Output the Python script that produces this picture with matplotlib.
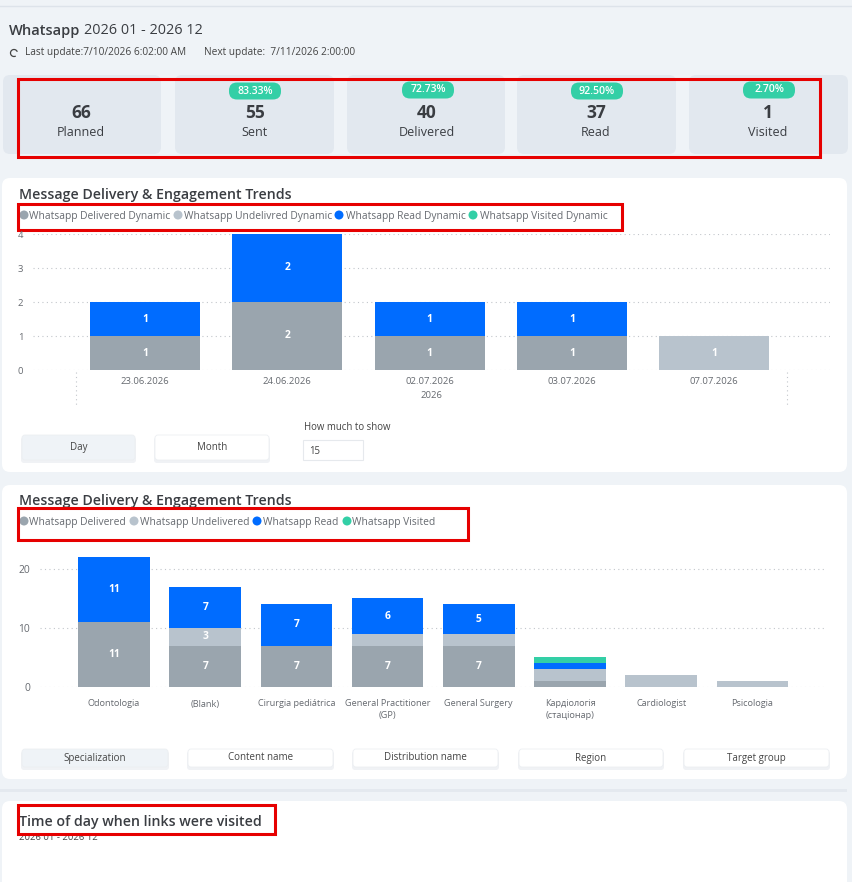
import matplotlib
matplotlib.use("Agg")
import matplotlib.pyplot as plt
from matplotlib.patches import FancyBboxPatch, Rectangle, Circle, Arc

plt.rcParams["font.family"] = ["Open Sans", "Noto Sans", "DejaVu Sans"]

W, H = 853, 882

# KPI strip
kpi_values = [66, 55, 40, 37, 1]
kpi_labels = ["Planned", "Sent", "Delivered", "Read", "Visited"]
kpi_rates = [None, "83.33%", "72.73%", "92.50%", "2.70%"]

# daily chart
day_labels = ["23.06.2026", "24.06.2026", "02.07.2026", "03.07.2026", "07.07.2026"]
day_delivered = [1, 2, 1, 1, 0]
day_undelivered = [0, 0, 0, 0, 1]
day_read = [1, 2, 1, 1, 0]
day_visited = [0, 0, 0, 0, 0]
day_ticks = [0, 1, 2, 3, 4]
day_legend = ["Whatsapp Delivered Dynamic", "Whatsapp Undelivred Dynamic",
              "Whatsapp Read Dynamic", "Whatsapp Visited Dynamic"]

# specialization chart
spec_labels = ["Odontologia", "(Blank)", "Cirurgia pediátrica",
               "General Practitioner\n(GP)", "General Surgery",
               "Кардіологія\n(стаціонар)", "Cardiologist", "Psicologia"]
spec_delivered = [11, 7, 7, 7, 7, 1, 0, 0]
spec_undelivered = [0, 3, 0, 2, 2, 2, 2, 1]
spec_read = [11, 7, 7, 6, 5, 1, 0, 0]
spec_visited = [0, 0, 0, 0, 0, 1, 0, 0]
spec_ticks = [0, 10, 20]
spec_legend = ["Whatsapp Delivered", "Whatsapp Undelivered",
               "Whatsapp Read", "Whatsapp Visited"]

COLORS = ["#9aa5ae", "#b8c3cd", "#006cff", "#33cfa6"]
BG = "#eff3f7"
CARD = "#e2e8ef"
TXT = "#3a3d42"
MUTED = "#666a70"
RED = "#e60000"

fig = plt.figure(figsize=(W / 100, H / 100), dpi=100, facecolor=BG)

# pixel-coordinate layer for panels, cards and labels
bg = fig.add_axes([0, 0, 1, 1], zorder=0)
bg.set_xlim(0, W)
bg.set_ylim(H, 0)
bg.axis("off")


def box(x0, y0, x1, y1, color, r=6, **kw):
    p = FancyBboxPatch((x0 + r, y0 + r), x1 - x0 - 2 * r, y1 - y0 - 2 * r,
                       boxstyle=f"round,pad={r},rounding_size={r}",
                       fc=color, ec=kw.pop("ec", "none"), lw=kw.pop("lw", 0), **kw)
    bg.add_patch(p)


def label(x, y, s, size=8, color=MUTED, ha="left", **kw):
    bg.text(x, y, s, fontsize=size, color=color, ha=ha, va="center", **kw)


def button(x0, x1, y0, y1, s, active=False):
    box(x0 - 1, y0 + 2, x1 + 1, y1 + 3, "#f0f2f5", r=3)
    box(x0, y0, x1, y1, "#eff3f7" if active else "white", r=3,
        ec="#eceff2", lw=0.6)
    label((x0 + x1) / 2, (y0 + y1) / 2, s, size=7, color="#444", ha="center")


def red_frame(x0, y0, x1, y1):
    bg.add_patch(Rectangle((x0, y0), x1 - x0, y1 - y0, fc="none", ec=RED, lw=2.2, zorder=6))


def legend_row(y, names, dots, texts):
    for name, c, dx, tx in zip(names, COLORS, dots, texts):
        bg.add_patch(Circle((dx, y), 4.5, fc=c, ec="none"))
        label(tx, y + 1, name, size=7.35)


# header
bg.plot([0, W], [6, 6], color="#dde3ea", lw=1)
label(9, 31, "Whatsapp", size=10.5, color=TXT, fontweight="semibold")
label(84, 30, "2026 01 - 2026 12", size=10.4, color=TXT)
bg.add_patch(Arc((14, 53), 7, 7, theta1=60, theta2=340, ec="#444", lw=0.9))
label(25, 52, "Last update:7/10/2026 6:02:00 AM", size=7.3, color="#444")
label(204, 52, "Next update:  7/11/2026 2:00:00", size=7.3, color="#444")

# KPI cards
card_x = [(3, 161), (175, 334), (347, 505), (517, 676), (689, 848)]
value_x = [81, 255, 427, 596, 768]
label_y = [133, 132, 132, 133, 132]
pill_x = [None, 255, 428, 597, 769]
pill_y = [None, 91, 90, 91, 90]
for i, (x0, x1) in enumerate(card_x):
    box(x0, 75, x1, 154, CARD, r=7)
    label(value_x[i], 113, str(kpi_values[i]), size=12.5, color=TXT, ha="center", fontweight="bold")
    label(value_x[i], label_y[i], kpi_labels[i], size=9, color=TXT, ha="center")
    if kpi_rates[i]:
        box(pill_x[i] - 26, pill_y[i] - 8.5, pill_x[i] + 26, pill_y[i] + 8.5, COLORS[3], r=8)
        label(pill_x[i], pill_y[i], kpi_rates[i], size=7.6, color="white", ha="center", fontweight="semibold")
red_frame(18, 79, 820, 157)

# white panels
box(2, 178, 847, 472, "white", r=8)
box(2, 485, 847, 779, "white", r=8)
bg.add_patch(Rectangle((0, 789), 847, 3, fc="#e4e9ef", ec="none"))
box(2, 801, 847, 900, "white", r=8)

label(19, 195, "Message Delivery & Engagement Trends", size=10.2, color=TXT, fontweight="semibold")
legend_row(215, day_legend, [24, 178, 339, 473], [29, 184, 346, 480])
red_frame(18, 204, 622, 230)

label(19, 501, "Message Delivery & Engagement Trends", size=10.2, color=TXT, fontweight="semibold")
legend_row(521, spec_legend, [24, 134, 257, 347], [29, 140, 263, 352])
red_frame(18, 508, 468, 540)

label(19, 822, "Time of day when links were visited", size=10.2, color=TXT, fontweight="semibold")
label(19, 838, "2026 01 - 2026 12", size=6.8, color="#444")
red_frame(18, 805, 275, 834)


def stacked(px_left, px_right, px_top, px_bot, first_x, step, width, ymax, ticks,
            cats, series, min_label):
    ax = fig.add_axes([px_left / W, 1 - px_bot / H, (px_right - px_left) / W,
                       (px_bot - px_top) / H], zorder=2)
    ax.patch.set_alpha(0)
    ax.set_xlim((px_left - first_x) / step, (px_right - first_x) / step)
    ax.set_ylim(0, ymax)
    xs = list(range(len(cats)))
    base = [0] * len(cats)
    for vals, c in zip(series, COLORS):
        ax.bar(xs, vals, width / step, bottom=base, color=c, zorder=3)
        for x, v, b in zip(xs, vals, base):
            if v >= min_label:
                ax.text(x, b + v / 2, str(v), color="white", fontsize=7.4,
                        fontweight="bold", ha="center", va="center", zorder=4)
        base = [b + v for b, v in zip(base, vals)]
    ax.set_yticks(ticks)
    ax.grid(axis="y", color="#c2c6cb", lw=0.8, ls=(0, (1, 3)), zorder=1)
    ax.set_axisbelow(True)
    for s in ax.spines.values():
        s.set_visible(False)
    ax.tick_params(length=0, labelsize=6.8, labelcolor=MUTED)
    ax.set_xticks(xs)
    ax.set_xticklabels(cats, linespacing=1.35)
    return ax


ax1 = stacked(33, 830, 234, 370, 145, 142.3, 110, 4, day_ticks, day_labels,
              [day_delivered, day_undelivered, day_read, day_visited], 1)
ax1.tick_params(axis="x", pad=5)
ax1.tick_params(axis="y", pad=7)
label(431, 395, "2026", size=6.8, ha="center")
for x in (76, 787):
    bg.plot([x, x], [372, 405], color="#c2c6cb", lw=0.8, ls=(0, (1, 3)))

ax2 = stacked(40, 824, 557, 687, 114, 91.2, 71.5, 22, spec_ticks, spec_labels,
              [spec_delivered, spec_undelivered, spec_read, spec_visited], 3)
ax2.tick_params(axis="x", pad=9, labelsize=6.6)
ax2.tick_params(axis="y", pad=7, labelsize=7.4)

# period switch and row limit
button(22, 135, 435, 460, "Day", active=True)
button(155, 269, 435, 460, "Month")
label(304, 428, "How much to show", size=6.9, color="#444")
bg.add_patch(Rectangle((303, 440), 60, 20, fc="white", ec="#e6e9ed", lw=0.8))
label(309, 451, "15", size=6.9, color="#444")

# breakdown switch
switch = ["Specialization", "Content name", "Distribution name", "Region", "Target group"]
switch_x = [(22, 168), (188, 333), (353, 498), (519, 663), (684, 829)]
for i, (name, (x0, x1)) in enumerate(zip(switch, switch_x)):
    button(x0, x1, 749, 767, name, active=i == 0)

fig.savefig("out.png", dpi=100, facecolor=fig.get_facecolor())
